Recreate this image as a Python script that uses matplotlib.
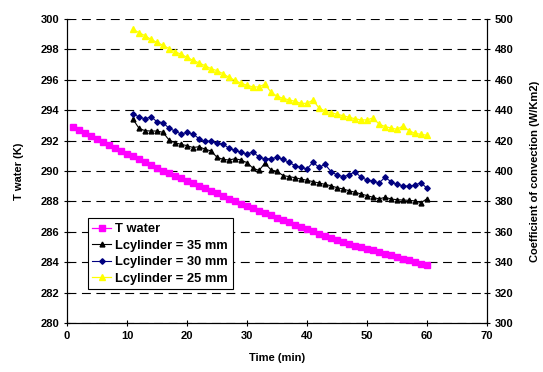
import matplotlib.pyplot as plt

plt.rcParams['font.family'] = ['Liberation Sans', 'DejaVu Sans']
plt.rcParams['font.weight'] = 'bold'

# time axis
t_water = list(range(1, 61))
t_cyl = list(range(11, 61))

# temperature of water (K), left axis
T_water = [292.88, 292.69, 292.50, 292.30, 292.11, 291.92, 291.73, 291.54, 291.34, 291.15,
           290.96, 290.77, 290.58, 290.38, 290.19, 290.00, 289.84, 289.67, 289.51, 289.34,
           289.18, 289.01, 288.85, 288.68, 288.52, 288.35, 288.19, 288.02, 287.86, 287.71,
           287.55, 287.40, 287.25, 287.10, 286.94, 286.79, 286.64, 286.48, 286.33, 286.18,
           286.03, 285.88, 285.73, 285.59, 285.45, 285.32, 285.20, 285.09, 284.98, 284.88,
           284.77, 284.66, 284.56, 284.45, 284.34, 284.23, 284.13, 284.02, 283.91, 283.81]

# coefficient of convection (W/Km2), right axis
h_35 = [434.0, 428.1, 426.5, 426.3, 426.3, 425.4, 420.4, 418.6, 417.5, 416.7,
        415.4, 416.0, 414.3, 413.2, 409.0, 407.7, 407.2, 408.1, 407.2, 405.5,
        401.8, 400.4, 405.1, 400.7, 399.8, 397.0, 396.3, 395.6, 394.7, 393.9,
        393.0, 392.1, 391.2, 390.3, 389.0, 388.2, 387.0, 386.0, 384.9, 383.8,
        382.7, 381.6, 382.7, 381.6, 381.1, 380.9, 380.7, 380.3, 379.1, 381.8]
h_30 = [437.3, 435.7, 434.2, 435.7, 432.4, 431.8, 428.1, 426.3, 424.3, 425.4,
        424.3, 421.3, 419.5, 419.7, 418.2, 417.8, 414.9, 413.6, 412.3, 411.2,
        412.5, 409.2, 407.9, 408.1, 409.0, 407.6, 405.7, 403.5, 402.4, 401.4,
        405.7, 402.4, 404.4, 399.6, 397.4, 396.3, 397.4, 399.6, 395.8, 394.1,
        393.4, 392.1, 395.8, 393.0, 391.2, 390.3, 389.9, 390.8, 392.3, 388.6]
h_25 = [493.2, 491.0, 489.0, 486.6, 484.6, 482.7, 480.5, 478.5, 476.8, 474.8,
        472.8, 471.1, 469.3, 467.3, 466.0, 464.0, 461.6, 459.7, 457.7, 456.4,
        455.3, 455.3, 457.2, 451.8, 449.2, 447.8, 446.8, 445.8, 444.5, 444.5,
        446.7, 441.4, 439.5, 438.4, 437.3, 436.4, 435.3, 434.4, 433.6, 433.6,
        434.9, 430.9, 429.2, 428.3, 427.4, 429.6, 426.5, 424.8, 424.1, 423.5]

fig = plt.figure(figsize=(5.43, 3.72), dpi=100)
ax = fig.add_axes([0.1234, 0.1317, 0.7735, 0.8173])
ax2 = ax.twinx()

l1, = ax.plot(t_water, T_water, color='#FF00FF', marker='s', markersize=4, lw=0.9,
              label='T water')
l2, = ax2.plot(t_cyl, h_35, color='black', marker='^', markersize=3.5, lw=0.8,
               label='Lcylinder = 35 mm')
l3, = ax2.plot(t_cyl, h_30, color='#000080', marker='D', markersize=2.8, lw=0.8,
               label='Lcylinder = 30 mm')
l4, = ax2.plot(t_cyl, h_25, color='#FFFF00', marker='^', markersize=4.5, lw=0.9,
               label='Lcylinder = 25 mm')

ax.set_xlim(0, 70)
ax.set_ylim(280, 300)
ax2.set_ylim(300, 500)
ax.set_xticks(range(0, 71, 10))
ax.set_yticks(range(280, 301, 2))
ax2.set_yticks(range(300, 501, 20))

ax.yaxis.grid(True, color='black', lw=0.8, linestyle=(0, (8, 5)))
ax.set_axisbelow(True)

for a in (ax, ax2):
    a.spines['top'].set_visible(False)
    a.tick_params(labelsize=8, direction='inout', length=5, width=0.8, pad=3)
    for lab in a.get_xticklabels() + a.get_yticklabels():
        lab.set_fontweight('bold')

ax.set_xlabel('Time (min)', fontsize=8, fontweight='bold', labelpad=9)
ax.set_ylabel('T water (K)', fontsize=8, fontweight='bold', labelpad=12)
ax2.set_ylabel('Coefficient of convection (W/Km2)', fontsize=8, fontweight='bold', labelpad=12)

leg = ax2.legend(handles=[l1, l2, l3, l4], loc='lower left',
                 bbox_to_anchor=(0.049, 0.111), borderaxespad=0, fontsize=9.3,
                 frameon=True, fancybox=False, edgecolor='black', framealpha=1,
                 handlelength=1.5, handletextpad=0.3, borderpad=0.35, labelspacing=0.35)
leg.get_frame().set_linewidth(0.8)
for txt in leg.get_texts():
    txt.set_fontweight('bold')

fig.savefig('out.png', dpi=100)
